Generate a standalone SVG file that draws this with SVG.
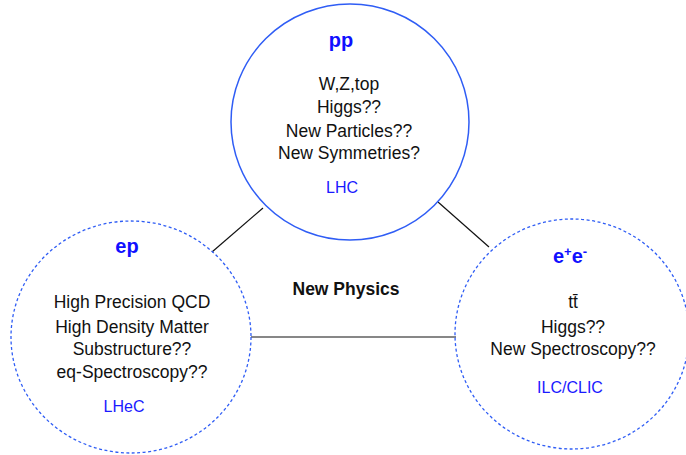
<svg xmlns="http://www.w3.org/2000/svg" width="686" height="455" viewBox="0 0 686 455">
<style>
.txt{font-family:"Liberation Sans",Arial,sans-serif;font-size:17.5px;fill:#111;text-anchor:middle}
.lab{font-family:"Liberation Sans",Arial,sans-serif;font-size:16px;fill:#1a1aff;text-anchor:middle}
.head{font-family:"Liberation Sans",Arial,sans-serif;font-size:20px;font-weight:bold;fill:#1010ff;text-anchor:middle}
.solid{fill:none;stroke:#2f5df5;stroke-width:1.5}
.dash{fill:none;stroke:#2f5df5;stroke-width:1.3;stroke-dasharray:3 2.5}
.conn{stroke:#111;stroke-width:1.2}
</style>
<rect width="686" height="455" fill="#fff"/>
<g id="connectors">
<line class="conn" x1="263" y1="208" x2="212" y2="252"/>
<line class="conn" x1="438" y1="202" x2="489" y2="247"/>
<line class="conn" x1="251" y1="337" x2="456" y2="337"/>
</g>
<g id="pp">
<ellipse class="solid" cx="350" cy="122" rx="119" ry="118"/>
<text class="head" x="341" y="47">pp</text>
<text class="txt" x="349" y="90">W,Z,top</text>
<text class="txt" x="349" y="113">Higgs??</text>
<text class="txt" x="349" y="137">New Particles??</text>
<text class="txt" x="349" y="159">New Symmetries?</text>
<text class="lab" x="342" y="193">LHC</text>
</g>
<g id="ep">
<ellipse class="dash" cx="131" cy="337" rx="120" ry="116"/>
<text class="head" x="127" y="253">ep</text>
<text class="txt" x="132" y="308">High Precision QCD</text>
<text class="txt" x="132" y="333">High Density Matter</text>
<text class="txt" x="132" y="355">Substructure??</text>
<text class="txt" x="132" y="378">eq-Spectroscopy??</text>
<text class="lab" x="124" y="412">LHeC</text>
</g>
<g id="ee">
<ellipse class="dash" cx="572" cy="334" rx="117" ry="115"/>
<text class="head" x="570" y="263">e<tspan font-size="13" dy="-7">+</tspan><tspan dy="7">e</tspan><tspan font-size="13" dy="-7">-</tspan></text>
<text class="txt" x="573" y="308">tt̄</text>
<text class="txt" x="573" y="333">Higgs??</text>
<text class="txt" x="573" y="355">New Spectroscopy??</text>
<text class="lab" x="570" y="393">ILC/CLIC</text>
</g>
<g id="newphysics">
<text class="txt" x="346" y="295" font-weight="bold" font-size="16">New Physics</text>
</g>
</svg>
